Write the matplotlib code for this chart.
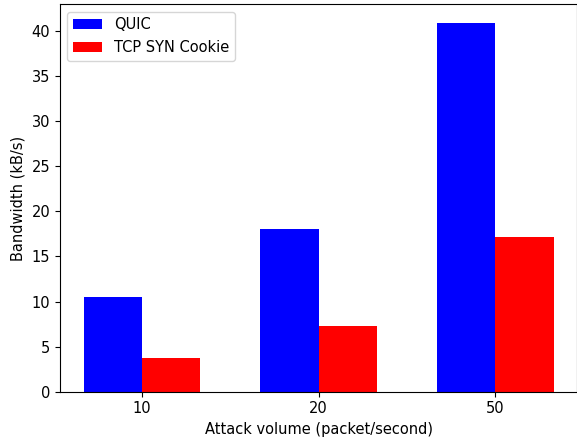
import numpy as np
import matplotlib
matplotlib.use('Agg')
import matplotlib.pyplot as plt

plt.rcParams['font.size'] = 10.5

# attack volumes (packets/second) and measured bandwidth (kB/s)
attack_volumes = ['10', '20', '50']
quic_bandwidth = [10.5, 18.1, 40.95]
syn_cookie_bandwidth = [3.73, 7.25, 17.2]

x = np.arange(len(attack_volumes))
width = 0.33

fig, ax = plt.subplots(figsize=(5.77, 4.37), dpi=100)
fig.subplots_adjust(left=0.104, right=1.0, bottom=0.104, top=0.99)

ax.bar(x - width / 2, quic_bandwidth, width, color='blue', label='QUIC')
ax.bar(x + width / 2, syn_cookie_bandwidth, width, color='red', label='TCP SYN Cookie')

ax.set_xticks(x)
ax.set_xticklabels(attack_volumes)
ax.set_xlabel('Attack volume (packet/second)')
ax.set_ylabel('Bandwidth (kB/s)')
ax.legend(loc='upper left')

plt.savefig('out.png', dpi=100)
